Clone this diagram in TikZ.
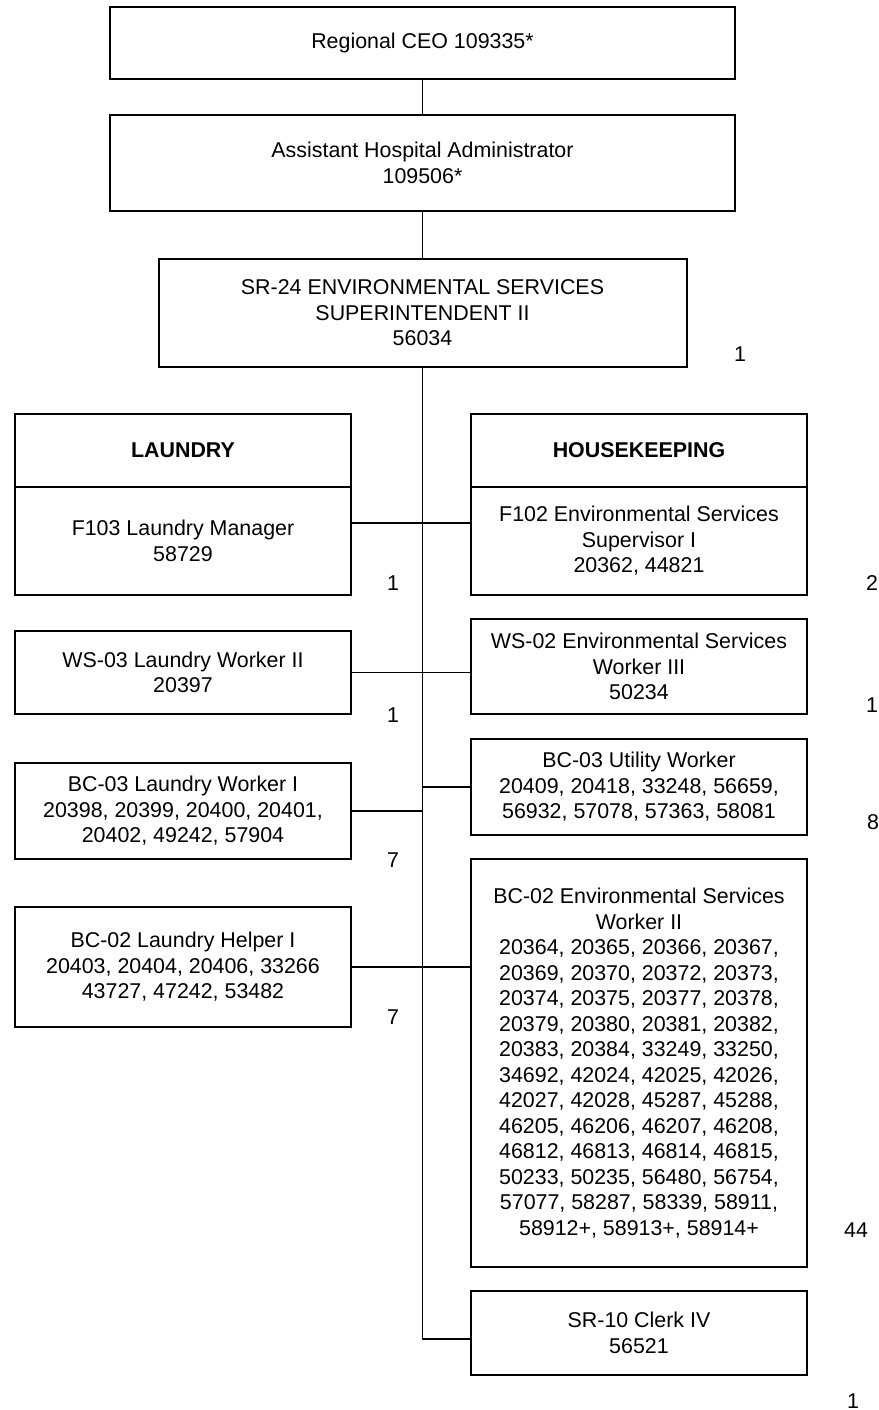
\documentclass[tikz,border=0pt]{standalone}
\usepackage{fontspec}
\setmainfont{Liberation Sans}
\usetikzlibrary{positioning}

\begin{document}
\begin{tikzpicture}[
  x=0.5pt, y=-0.5pt,
  font=\fontsize{10.7}{12.75}\selectfont, line width=0.9pt,
  postbox/.style={draw,line width=1pt,align=center,outer sep=0pt,inner sep=2pt},
  top/.style={postbox,minimum width=312.5pt},
  col/.style={postbox,minimum width=168pt},
  headcount/.style={inner sep=0pt}
]
\useasboundingbox (0,0) rectangle (879,1410);
\node[top,minimum height=36pt] (ceo) at (422.5,43) {Regional CEO 109335*};
\node[top,minimum height=48pt,below=18pt of ceo] (aha) {Assistant Hospital Administrator\\109506*};
\node[postbox,minimum width=264pt,minimum height=54pt,below=24pt of aha] (sup) {SR-24 ENVIRONMENTAL SERVICES\\SUPERINTENDENT II\\56034};
\node[col,minimum height=36.5pt] (laundry) at (183,450.5) {\textbf{LAUNDRY}};
\node[col,minimum height=36.5pt] (hk) at (639,450.5) {\textbf{HOUSEKEEPING}};
\node[col,minimum height=54pt,below=0pt of laundry] (f103) {F103 Laundry Manager\\58729};
\node[col,minimum height=54pt,below=0pt of hk] (f102) {F102 Environmental Services\\Supervisor I\\20362, 44821};
\node[col,minimum height=41.5pt,below=18pt of f103] (ws03) {WS-03 Laundry Worker II\\20397};
\node[col,minimum height=47.5pt,below=12pt of f102] (ws02) {WS-02 Environmental Services\\Worker III\\50234};
\node[col,minimum height=48pt,below=24.5pt of ws03] (bc03l) {BC-03 Laundry Worker I\\20398, 20399, 20400, 20401,\\20402, 49242, 57904};
\node[col,minimum height=48pt,below=12.5pt of ws02] (bc03u) {BC-03 Utility Worker\\20409, 20418, 33248, 56659,\\56932, 57078, 57363, 58081};
\node[col,minimum height=60pt,below=24pt of bc03l] (bc02l) {BC-02 Laundry Helper I\\20403, 20404, 20406, 33266\\43727, 47242, 53482};
\node[col,minimum height=204pt,below=12pt of bc03u] (bc02e) {BC-02 Environmental Services\\Worker II\\20364, 20365, 20366, 20367,\\20369, 20370, 20372, 20373,\\20374, 20375, 20377, 20378,\\20379, 20380, 20381, 20382,\\20383, 20384, 33249, 33250,\\34692, 42024, 42025, 42026,\\42027, 42028, 45287, 45288,\\46205, 46206, 46207, 46208,\\46812, 46813, 46814, 46815,\\50233, 50235, 56480, 56754,\\57077, 58287, 58339, 58911,\\58912+, 58913+, 58914+};
\node[col,minimum height=42pt,below=12pt of bc02e] (clerk) {SR-10 Clerk IV\\56521};
\node[headcount] (nsup) at (740,354) {1};
\node[headcount] (nf103) at (393,583) {1};
\node[headcount] (nf102) at (872,583) {2};
\node[headcount] (nws03) at (393,715) {1};
\node[headcount] (nws02) at (872,705) {1};
\node[headcount] (nbc03u) at (873,822) {8};
\node[headcount] (nbc03l) at (393,860) {7};
\node[headcount] (nbc02l) at (393,1017) {7};
\node[headcount] (nbc02e) at (856,1230) {44};
\node[headcount] (nclerk) at (853,1401) {1};
\draw (ceo) -- (aha);
\draw (aha) -- (sup);
\draw (sup.south) |- ([yshift=-3pt]clerk.west);
\draw ([yshift=-18pt]f103.north east) -- ([yshift=-18pt]f102.north west);
\draw (ws03.east) -- (ws03.east -| ws02.west);
\draw (bc03u.west) -- (bc03u.west -| sup.south);
\draw (bc03l.east) -- (bc03l.east -| sup.south);
\draw (bc02l.east) -- (bc02l.east -| bc02e.west);
\end{tikzpicture}
\end{document}
